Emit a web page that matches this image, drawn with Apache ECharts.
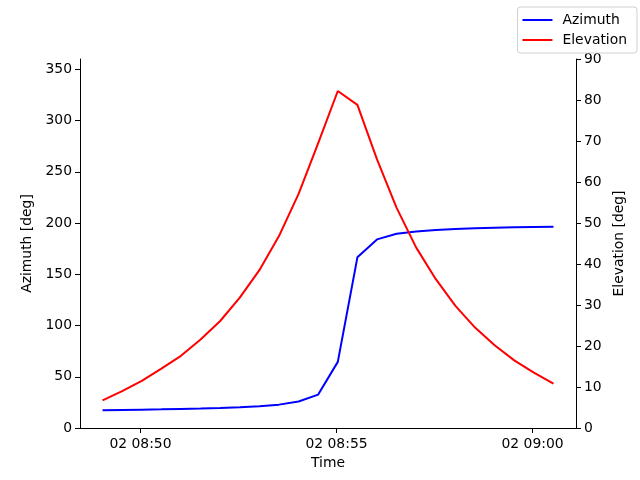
<!DOCTYPE html>
<html>
<head>
<meta charset="utf-8">
<script src="https://cdn.jsdelivr.net/npm/echarts@6/dist/echarts.min.js"></script>
<style>html,body{margin:0;padding:0;background:#fff}#c{width:640px;height:480px}</style>
</head>
<body>
<div id="c"></div>
<script>
var times = ["08:49:02","08:49:32","08:50:02","08:50:32","08:51:02","08:51:32","08:52:02","08:52:32",
  "08:53:02","08:53:32","08:54:02","08:54:32","08:55:02","08:55:32","08:56:02","08:56:32",
  "08:57:02","08:57:32","08:58:02","08:58:32","08:59:02","08:59:32","09:00:02","09:00:32"];
var azimuth = [17.3,17.6,17.9,18.2,18.6,19.0,19.5,20.2,21.2,22.8,25.8,32.6,64.5,166.5,184.0,189.5,
  191.8,193.2,194.2,194.9,195.4,195.8,196.1,196.4];
var elevation = [6.75,9.0,11.5,14.5,17.6,21.6,26.1,31.8,38.5,46.8,57.1,69.5,82.2,78.8,65.5,53.7,
  44.0,36.3,29.8,24.5,20.2,16.5,13.5,10.8];
var xTicks = ["08:50:00","08:55:00","09:00:00"];
var azTicks = [0,50,100,150,200,250,300,350];
var elTicks = [0,10,20,30,40,50,60,70,80,90];

// seconds since midnight of day 02
function toSec(s){var p=s.split(':');return (+p[0])*3600+(+p[1])*60+(+p[2]);}
function pad(n){return (n<10?'0':'')+n;}
var tsec = times.map(toSec);
var span = tsec[tsec.length-1]-tsec[0];
var xmin = tsec[0]-0.05*span, xmax = tsec[tsec.length-1]+0.05*span;
var font = {fontFamily:'DejaVu Sans', fontSize:13.9, color:'#000'};
var axisLine = {show:true, onZero:false, lineStyle:{color:'#000', width:1}};
var chart = echarts.init(document.getElementById('c'));
chart.setOption({
  animation:false,
  backgroundColor:'#fff',
  grid:{left:80, right:64, top:59, bottom:52, containLabel:false},
  legend:{
    orient:'vertical', right:3, top:7, itemWidth:30, itemHeight:2, itemGap:4,
    icon:'rect',
    padding:[5,10,5,5], borderColor:'#d0d0d0', borderWidth:1, borderRadius:3,
    backgroundColor:'rgba(255,255,255,0.8)',
    textStyle:{fontFamily:'DejaVu Sans', fontSize:13.9, color:'#000', lineHeight:16, padding:[0,0,0,5]},
    data:['Azimuth','Elevation']
  },
  xAxis:{
    type:'value', min:xmin, max:xmax, scale:true,
    name:'Time', nameLocation:'middle', nameGap:28, nameTextStyle:font,
    axisLine:axisLine, splitLine:{show:false},
    axisTick:{show:true, length:5, inside:false, lineStyle:{color:'#000'}, customValues:xTicks.map(toSec)},
    axisLabel:Object.assign({margin:9, customValues:xTicks.map(toSec), formatter:function(v){
      var h=Math.floor(v/3600), m=Math.round((v-h*3600)/60); return '02 '+pad(h)+':'+pad(m);}}, font)
  },
  yAxis:[{
    type:'value', min:0, max:360, position:'left',
    name:'Azimuth [deg]', nameLocation:'middle', nameGap:41, nameRotate:90, nameTextStyle:font,
    axisLine:axisLine, splitLine:{show:false},
    axisTick:{show:true, length:5, lineStyle:{color:'#000'}, customValues:azTicks},
    axisLabel:Object.assign({margin:8, customValues:azTicks}, font)
  },{
    type:'value', min:0, max:90, position:'right',
    name:'Elevation [deg]', nameLocation:'middle', nameGap:33, nameRotate:90, nameTextStyle:font,
    axisLine:axisLine, splitLine:{show:false},
    axisTick:{show:true, length:5, lineStyle:{color:'#000'}, customValues:elTicks},
    axisLabel:Object.assign({margin:8, customValues:elTicks}, font)
  }],
  series:[{
    name:'Azimuth', type:'line', yAxisIndex:0, symbol:'none', color:'#0000ff',
    lineStyle:{color:'#0000ff', width:2},
    data:tsec.map(function(t,i){return [t, azimuth[i]];})
  },{
    name:'Elevation', type:'line', yAxisIndex:1, symbol:'none', color:'#ff0000',
    lineStyle:{color:'#ff0000', width:2},
    data:tsec.map(function(t,i){return [t, elevation[i]];})
  }]
});
</script>
</body>
</html>
